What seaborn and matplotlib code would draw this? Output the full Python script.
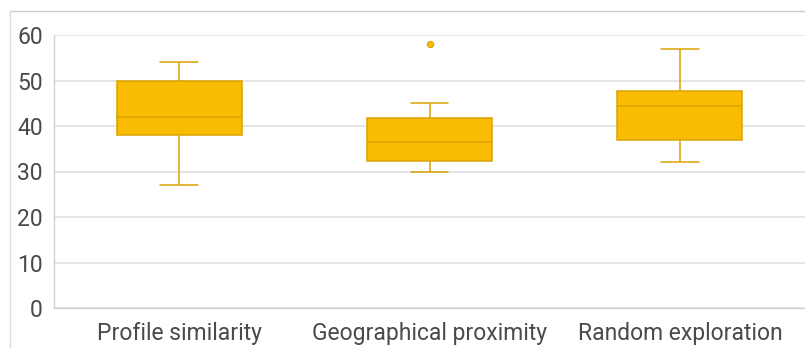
import matplotlib
matplotlib.use("Agg")
import matplotlib.pyplot as plt
from matplotlib.lines import Line2D
import seaborn as sns
import pandas as pd

# values (five-number summaries + outliers)
categories = ["Profile similarity", "Geographical proximity", "Random exploration"]
whisker_low = [27, 30, 32]
q1 = [38, 32.3, 37]
median = [42, 36.5, 44.5]
q3 = [50, 41.8, 47.8]
whisker_high = [54, 45, 57]
outliers = [[], [58], []]

# sample points that reproduce those summaries exactly (linear percentiles, n=9)
rows = []
for i, cat in enumerate(categories):
    vals = [whisker_low[i], whisker_low[i], q1[i], median[i], median[i], median[i],
            q3[i], whisker_high[i]]
    vals += outliers[i] if outliers[i] else [whisker_high[i]]
    for v in vals:
        rows.append({"group": cat, "value": v})
df = pd.DataFrame(rows)

fill = "#F9BC02"
edge = "#D9A300"
text_col = "#4A4A4A"
grid_col = "#E0E0E0"

sns.set_style("white")
plt.rcParams["font.family"] = ["Roboto", "DejaVu Sans"]

fig = plt.figure(figsize=(8.05, 3.48), dpi=100)
ax = fig.add_axes([54 / 805, 1 - 308 / 348, 1 - 54 / 805, (308 - 35) / 348])

sns.boxplot(data=df, x="group", y="value", order=categories, ax=ax,
            color=fill, saturation=1, width=0.5, linecolor=edge, linewidth=1.1,
            fliersize=4.5, capwidths=0.15,
            flierprops=dict(marker="o", markerfacecolor=fill, markeredgecolor=edge,
                            markeredgewidth=0.8))

ax.set_ylim(0, 60)
ax.set_xlim(-0.5, 2.5)
ax.set_yticks([0, 10, 20, 30, 40, 50, 60])
ax.yaxis.grid(True, color=grid_col, linewidth=1.2)
ax.set_axisbelow(True)
ax.set_xlabel("")
ax.set_ylabel("")
ax.tick_params(axis="both", length=0, labelsize=16.5, colors=text_col)
ax.tick_params(axis="y", pad=8)
ax.tick_params(axis="x", pad=10)
for s in ["top", "right"]:
    ax.spines[s].set_visible(False)
for s in ["left", "bottom"]:
    ax.spines[s].set_color("#D0D0D0")
    ax.spines[s].set_linewidth(1.0)

# outer frame edge (top and left) of the original card
fig.add_artist(Line2D([10 / 805, 1], [1 - 11 / 348, 1 - 11 / 348], color="#CCCCCC", linewidth=1.0))
fig.add_artist(Line2D([10 / 805, 10 / 805], [0, 1 - 11 / 348], color="#DDDDDD", linewidth=1.0))

fig.savefig("out.png", dpi=100)
